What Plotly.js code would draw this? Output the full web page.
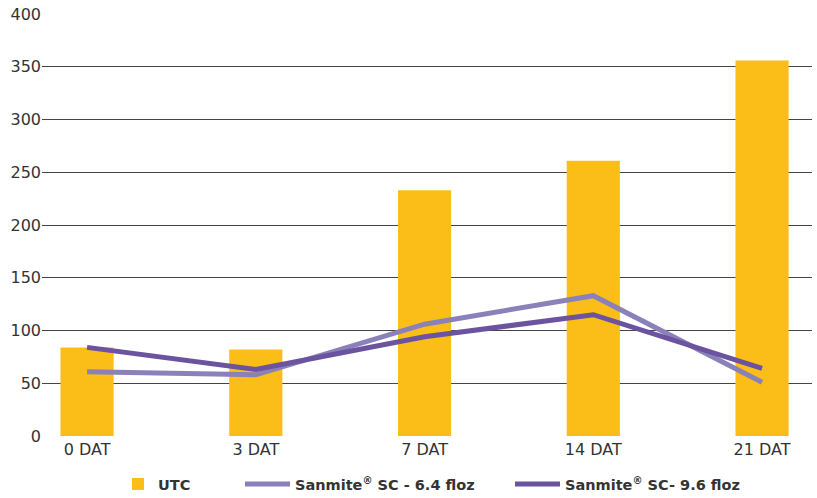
<!DOCTYPE html>
<html><head><meta charset="utf-8">
<script src="https://cdn.plot.ly/plotly-3.0.1.min.js"></script>
<style>html,body{margin:0;padding:0;background:#fff}#chart{width:817px;height:498px}</style>
</head><body><div id="chart"></div>
<script>
const categories = ["0 DAT", "3 DAT", "7 DAT", "14 DAT", "21 DAT"];
const utc = [84, 82, 233, 261, 356];
const sanmite64 = [61, 58, 106, 133, 51];
const sanmite96 = [84, 63, 94, 115, 64];
const yTicks = [0, 50, 100, 150, 200, 250, 300, 350, 400];
const seriesNames = ["UTC", "Sanmite<sup>®</sup> SC - 6.4 floz", "Sanmite<sup>®</sup> SC- 9.6 floz"];

const traces = [
  {type: "bar", x: categories, y: utc, name: seriesNames[0], marker: {color: "#FBBD17"}, width: 0.315,
   legend: "legend"},
  {type: "scatter", mode: "lines", x: categories, y: sanmite64, name: seriesNames[1],
   line: {color: "#8A80BA", width: 5}, legend: "legend2"},
  {type: "scatter", mode: "lines", x: categories, y: sanmite96, name: seriesNames[2],
   line: {color: "#6B539F", width: 5}, legend: "legend3"}
];
const legFont = {size: 14.5, color: "#333", weight: "bold"};
const legY = 1 - 484 / 498;
function leg(xpx, iw) {
  return {orientation: "h", xref: "container", yref: "container", x: xpx / 817, xanchor: "left",
          y: legY, yanchor: "middle", font: legFont, itemwidth: iw, bgcolor: "rgba(0,0,0,0)"};
}
const layout = {
  width: 817, height: 498,
  margin: {l: 42, r: 5, t: 14, b: 62},
  paper_bgcolor: "#fff", plot_bgcolor: "#fff",
  font: {family: "'DejaVu Sans', sans-serif", size: 16, color: "#333"},
  showlegend: true,
  xaxis: {type: "category", range: [-0.267, 4.296], showgrid: false, zeroline: false,
          showline: false, ticks: "", ticklabelstandoff: 2, tickfont: {size: 16, color: "#333"}},
  yaxis: {range: [0, 400], tickvals: yTicks, showgrid: true,
          gridcolor: "#444", gridwidth: 1, zeroline: false, showline: false, ticks: "",
          tickfont: {size: 16, color: "#333"}},
  legend: leg(118, 30),
  legend2: leg(240, 45),
  legend3: leg(510, 45)
};
Plotly.newPlot("chart", traces, layout, {staticPlot: true});
</script></body></html>
